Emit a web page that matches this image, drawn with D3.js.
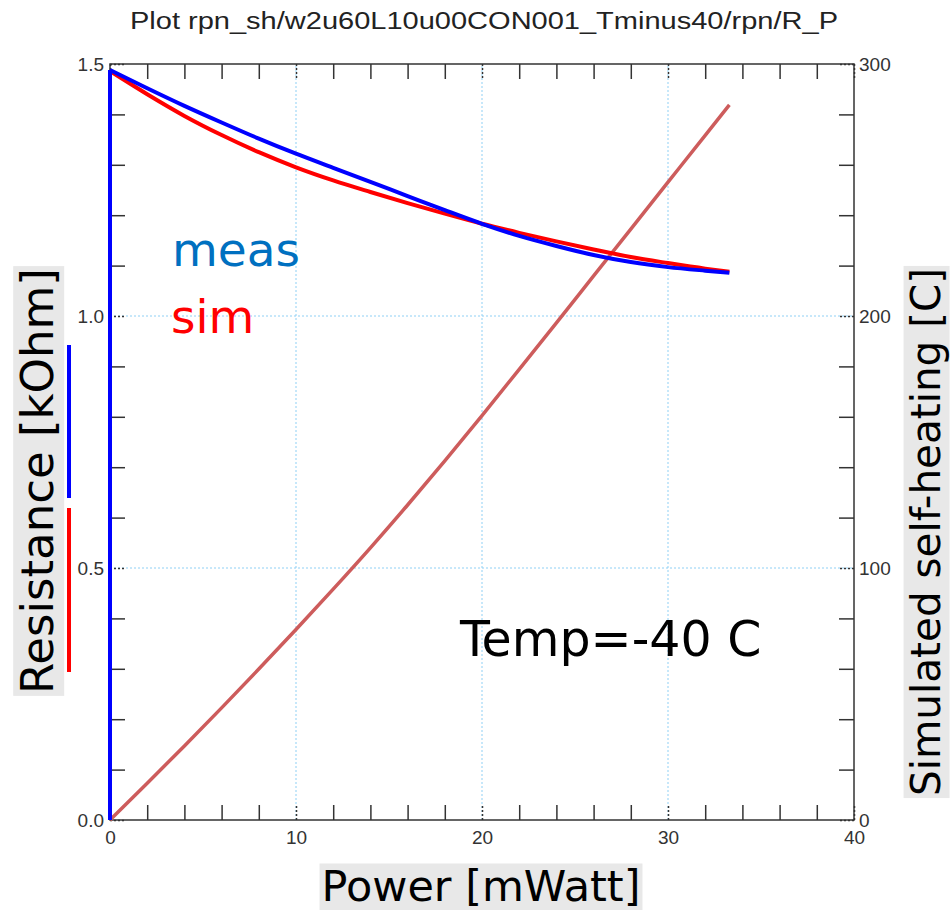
<!DOCTYPE html>
<html>
<head>
<meta charset="utf-8">
<script src="https://cdn.jsdelivr.net/npm/d3@7"></script>
<style>
  body { margin: 0; background: #fff; }
  svg { display: block; }
</style>
</head>
<body>
<svg id="vis" width="950" height="910"></svg>
<script>
// data
var measPower = [0, 0, 2, 4, 6, 8, 10, 12, 14, 16, 18, 20, 22, 24, 26, 28, 30, 32, 33.3];
var measR     = [0, 1.488, 1.452, 1.417, 1.384, 1.352, 1.322, 1.294, 1.266, 1.238, 1.210, 1.183, 1.159, 1.139, 1.121, 1.107, 1.097, 1.090, 1.086];

var simPower = [0, 2, 4, 6, 8, 10, 12, 14, 16, 18, 20, 22, 24, 26, 28, 30, 32, 33.3];
var simR     = [1.486, 1.440, 1.397, 1.359, 1.325, 1.295, 1.269, 1.246, 1.224, 1.203, 1.183, 1.165, 1.148, 1.132, 1.117, 1.105, 1.094, 1.088];
var simHeat  = [0, 14.6, 29.4, 44.5, 59.9, 75.6, 91.6, 108, 125, 142.5, 160.5, 178.8, 197.3, 215.9, 234.5, 253.1, 271.7, 283.8];

var xTicks = d3.range(0, 41, 2);
var yLeftTicks = d3.range(0, 1.51, 0.1);
var yRightTicks = d3.range(0, 301, 20);
var xLabels = [0, 10, 20, 30, 40];
var yLeftLabels = [0, 0.5, 1.0, 1.5];
var yRightLabels = [0, 100, 200, 300];

var svg = d3.select("svg#vis");

var margin = {left: 110, right: 96, top: 64, bottom: 90};
var W = 950, H = 910;

var x = d3.scaleLinear().domain([0, 40]).range([margin.left, W - margin.right]);
var yL = d3.scaleLinear().domain([0, 1.5]).range([H - margin.bottom, margin.top]);
var yR = d3.scaleLinear().domain([0, 300]).range([H - margin.bottom, margin.top]);

var isMajorX = function(d) { return Math.abs(d % 10) < 1e-6; };
var isMajorL = function(d) { return Math.abs(Math.round(d * 10) % 5) === 0; };
var isMajorR = function(d) { return d % 100 === 0; };

// title (stretched wide like the original)
svg.append("text")
    .attr("x", 130)
    .attr("y", 29)
    .attr("textLength", 708)
    .attr("lengthAdjust", "spacingAndGlyphs")
    .style("font-family", "Liberation Sans, Arial, sans-serif")
    .style("font-size", "23px")
    .style("fill", "#222")
    .text("Plot rpn_sh/w2u60L10u00CON001_Tminus40/rpn/R_P");

// gridlines
var grid = svg.append("g").attr("id", "grid");
grid.selectAll("line.gx")
    .data([10, 20, 30])
    .enter().append("line")
    .attr("x1", d => x(d)).attr("x2", d => x(d))
    .attr("y1", yL(0)).attr("y2", yL(1.5))
    .style("stroke", "#8fd0f5")
    .style("stroke-width", 1)
    .style("stroke-dasharray", "2,2");
grid.selectAll("line.gy")
    .data([0.5, 1.0])
    .enter().append("line")
    .attr("x1", x(0)).attr("x2", x(40))
    .attr("y1", d => yL(d)).attr("y2", d => yL(d))
    .style("stroke", "#8fd0f5")
    .style("stroke-width", 1)
    .style("stroke-dasharray", "2,2");

function styleAxis(g, majorFn) {
    g.select(".domain").remove();
    g.selectAll(".tick line")
        .style("stroke", "#333")
        .style("stroke-width", 1.5)
        .style("stroke-dasharray", d => majorFn(d) ? "2,2" : null);
    g.selectAll(".tick text")
        .style("font-family", "Liberation Sans, Arial, sans-serif")
        .style("font-size", "19px")
        .style("fill", "#333");
}

var fmtX = d => xLabels.indexOf(d) >= 0 ? d : "";
var fmtL = d => yLeftLabels.some(v => Math.abs(v - d) < 1e-6) ? d3.format(".1f")(d) : "";
var fmtR = d => yRightLabels.indexOf(d) >= 0 ? d : "";

var gB = svg.append("g")
    .attr("transform", "translate(0," + yL(0) + ")")
    .call(d3.axisBottom(x).tickValues(xTicks).tickSize(-15).tickPadding(11).tickFormat(fmtX));
styleAxis(gB, isMajorX);

var gT = svg.append("g")
    .attr("transform", "translate(0," + yL(1.5) + ")")
    .call(d3.axisTop(x).tickValues(xTicks).tickSize(-15).tickFormat(""));
styleAxis(gT, isMajorX);

var gL = svg.append("g")
    .attr("transform", "translate(" + x(0) + ",0)")
    .call(d3.axisLeft(yL).tickValues(yLeftTicks).tickSize(-15).tickPadding(6).tickFormat(fmtL));
styleAxis(gL, isMajorL);

var gR = svg.append("g")
    .attr("transform", "translate(" + x(40) + ",0)")
    .call(d3.axisRight(yR).tickValues(yRightTicks).tickSize(-15).tickPadding(5).tickFormat(fmtR));
styleAxis(gR, isMajorR);

// frame
svg.append("rect")
    .attr("x", x(0)).attr("y", yL(1.5))
    .attr("width", x(40) - x(0)).attr("height", yL(0) - yL(1.5))
    .style("fill", "none")
    .style("stroke", "#333")
    .style("stroke-width", 1.5);

// curves
var lineL = d3.line().x(d => x(d[0])).y(d => yL(d[1])).curve(d3.curveMonotoneX);
var lineR = d3.line().x(d => x(d[0])).y(d => yR(d[1])).curve(d3.curveMonotoneX);
var straightL = d3.line().x(d => x(d[0])).y(d => yL(d[1]));

svg.append("path")
    .datum(d3.zip(simPower, simHeat))
    .attr("d", lineR)
    .style("fill", "none")
    .style("stroke", "#cd5c5c")
    .style("stroke-width", 3.5);

svg.append("path")
    .datum(d3.zip(simPower, simR))
    .attr("d", lineL)
    .style("fill", "none")
    .style("stroke", "#ff0000")
    .style("stroke-width", 4);

// meas starts with a vertical jump at P = 0
var measPts = d3.zip(measPower, measR);
svg.append("path")
    .datum(measPts.slice(0, 2))
    .attr("d", straightL)
    .style("fill", "none")
    .style("stroke", "#0000ff")
    .style("stroke-width", 4);
svg.append("path")
    .datum(measPts.slice(1))
    .attr("d", lineL)
    .style("fill", "none")
    .style("stroke", "#0000ff")
    .style("stroke-width", 4);

// legend text
svg.append("text")
    .attr("x", 172).attr("y", 266)
    .style("font-family", "DejaVu Sans, Verdana, sans-serif")
    .style("font-size", "47px")
    .style("fill", "#0070c0")
    .text("meas");
svg.append("text")
    .attr("x", 171).attr("y", 333)
    .style("font-family", "DejaVu Sans, Verdana, sans-serif")
    .style("font-size", "47px")
    .style("fill", "#ff0000")
    .text("sim");
svg.append("text")
    .attr("x", 460).attr("y", 656)
    .style("font-family", "DejaVu Sans, Verdana, sans-serif")
    .style("font-size", "49px")
    .style("fill", "#000")
    .text("Temp=-40 C");

// axis titles with grey background
function boxedLabel(txt, cx, cy, size, rot) {
    var g = svg.append("g").attr("transform", "translate(" + cx + "," + cy + ") rotate(" + rot + ")");
    var bg = g.append("rect").style("fill", "#e8e8e8");
    var t = g.append("text")
        .attr("text-anchor", "middle")
        .attr("dy", "0.36em")
        .style("font-family", "DejaVu Sans, Verdana, sans-serif")
        .style("font-size", size + "px")
        .style("fill", "#000")
        .text(txt);
    var b = t.node().getBBox();
    bg.attr("x", b.x - 2).attr("y", b.y + 2).attr("width", b.width + 4).attr("height", b.height - 2);
}
boxedLabel("Power [mWatt]", 481, 886, 43, 0);
boxedLabel("Resistance [kOhm]", 37, 481, 45, -90);
boxedLabel("Simulated self-heating [C]", 925, 532, 40.5, -90);

// colour bars beside left title
svg.append("line")
    .attr("x1", 69).attr("x2", 69).attr("y1", 345).attr("y2", 498)
    .style("stroke", "#0000ff").style("stroke-width", 4);
svg.append("line")
    .attr("x1", 69).attr("x2", 69).attr("y1", 508).attr("y2", 672)
    .style("stroke", "#ff0000").style("stroke-width", 4);
</script>
</body>
</html>
